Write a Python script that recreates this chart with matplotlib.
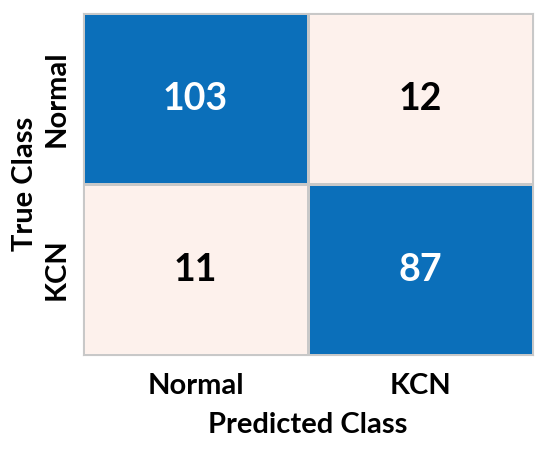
import numpy as np
import matplotlib.pyplot as plt
from matplotlib.colors import ListedColormap

classes = ["Normal", "KCN"]
cm = np.array([[103, 12],
               [11, 87]])

plt.rcParams['font.family'] = ['Lato', 'DejaVu Sans']

fig = plt.figure(figsize=(5.5, 4.49), dpi=100)
ax = fig.add_axes([0.151, 0.209, 0.818, 0.762])

# high values blue, low values pale pink
cmap = ListedColormap(["#fdf1ec", "#0b6fba"])
high = (cm > cm.max() / 2).astype(int)
ax.pcolormesh(high, cmap=cmap, vmin=0, vmax=1, edgecolor="#c8c8c8", linewidth=0.8)
ax.set_xlim(0, 2)
ax.set_ylim(2, 0)

for i in range(2):
    for j in range(2):
        ax.text(j + 0.5, i + 0.5, str(cm[i, j]), ha='center', va='center',
                fontsize=27, fontweight='bold',
                color='white' if high[i, j] else 'black')

ax.set_xticks([0.5, 1.5])
ax.set_xticklabels(classes, fontsize=21, fontweight='bold')
ax.set_yticks([0.5, 1.5])
ax.set_yticklabels(classes, fontsize=21, fontweight='bold', rotation=90, va='center')
ax.tick_params(axis='x', length=0, pad=13)
ax.tick_params(axis='y', length=0, pad=10)
ax.set_xlabel("Predicted Class", fontsize=21, fontweight='bold', labelpad=9)
ax.set_ylabel("True Class", fontsize=21, fontweight='bold', labelpad=4)
for s in ax.spines.values():
    s.set_color("#c8c8c8")
    s.set_linewidth(0.8)

fig.savefig("out.png", dpi=100)
